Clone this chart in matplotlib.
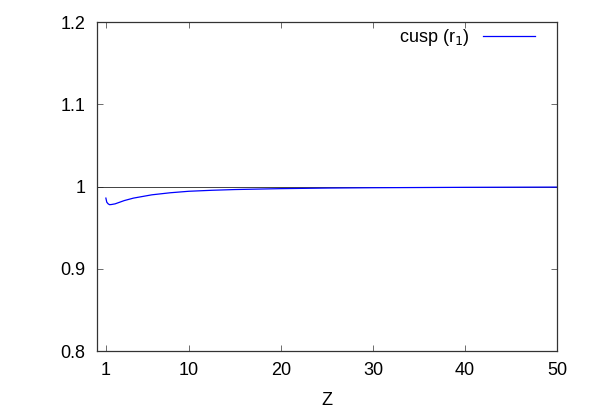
import matplotlib
matplotlib.use("Agg")
import matplotlib.pyplot as plt

# ratio vs Z
z = [1.0, 1.1, 1.25, 1.4, 1.6, 2.0, 2.5, 3.0, 4.0, 5.0, 6.0, 8.0, 10.0, 12.5,
     15.0, 20.0, 25.0, 30.0, 40.0, 50.0]
ratio = [0.986, 0.981, 0.979, 0.978, 0.9782, 0.979, 0.981, 0.983, 0.986, 0.988,
         0.990, 0.9925, 0.9943, 0.9955, 0.9964, 0.9975, 0.9982, 0.9986, 0.9991, 0.9994]
xticks = [1, 10, 20, 30, 40, 50]
yticks = [0.8, 0.9, 1.0, 1.1, 1.2]
yticklabels = ["0.8", "0.9", "1", "1.1", "1.2"]

plt.rcParams["font.family"] = ["Liberation Sans", "DejaVu Sans"]
plt.rcParams["font.size"] = 13

fig = plt.figure(figsize=(5.93, 4.15), dpi=100)
ax = fig.add_axes([0.163, 0.154, 0.7767, 0.7928])

ax.axhline(1.0, color="#222222", lw=0.6)
ax.plot(z, ratio, color="blue", lw=0.9, label="cusp (r$_1$)")

ax.set_xlim(0, 50)
ax.set_ylim(0.8, 1.2)
ax.set_xticks(xticks)
ax.set_yticks(yticks)
ax.set_yticklabels(yticklabels)
ax.tick_params(direction="in", top=True, right=True, length=4, width=0.6,
               color="#555555", pad=8)
for s in ax.spines.values():
    s.set_color("#333333")
    s.set_linewidth(0.9)
ax.set_xlabel("Z", labelpad=9)

ax.legend(loc="upper right", bbox_to_anchor=(0.9516, 0.985), frameon=False,
          markerfirst=False, handlelength=2.9, handletextpad=0.7,
          borderpad=0, borderaxespad=0)

fig.savefig("out.png", dpi=100)
